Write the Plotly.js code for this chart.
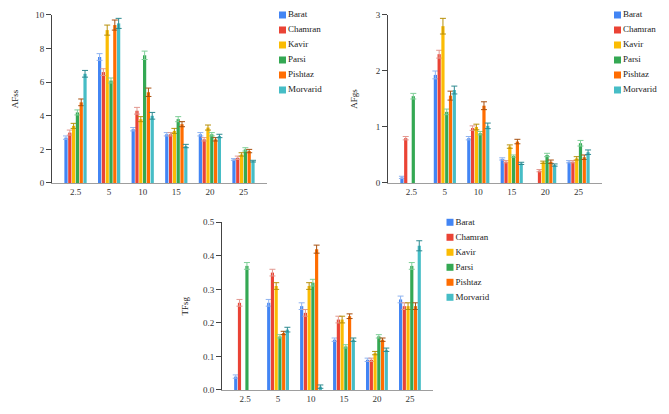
<!DOCTYPE html>
<html>
<head>
<meta charset="utf-8">
<script src="https://cdn.plot.ly/plotly-3.0.1.min.js"></script>
<style>html,body{margin:0;padding:0;background:#fff;}#chart{width:669px;height:414px;}</style>
</head>
<body>
<div id="chart"></div>
<script>
const categories = ['2.5', '5', '10', '15', '20', '25'];
const seriesNames = ['Barat', 'Chamran', 'Kavir', 'Parsi', 'Pishtaz', 'Morvarid'];
const seriesColors = ['#4285F4', '#EA4335', '#FBBC04', '#34A853', '#FF6D01', '#46BDC6'];
const errorColors = ['#8fb3f0', '#e39890', '#b8900a', '#7fcf98', '#a85010', '#2e8a90'];

// AFss
const afssBarat    = [2.7, 7.5, 3.2, 2.9, 2.9, 1.4];
const afssChamran  = [3.0, 6.6, 4.3, 2.9, 2.6, 1.5];
const afssKavir    = [3.4, 9.1, 3.8, 3.1, 3.3, 1.7];
const afssParsi    = [4.2, 6.1, 7.6, 3.8, 2.9, 2.0];
const afssPishtaz  = [4.8, 9.4, 5.4, 3.5, 2.6, 1.9];
const afssMorvarid = [6.5, 9.5, 4.0, 2.2, 2.8, 1.3];
const afssErrBarat    = [0.1, 0.2, 0.1, 0.1, 0.1, 0.05];
const afssErrChamran  = [0.15, 0.2, 0.2, 0.1, 0.1, 0.1];
const afssErrKavir    = [0.15, 0.3, 0.15, 0.15, 0.15, 0.1];
const afssErrParsi    = [0.15, 0.15, 0.25, 0.15, 0.1, 0.1];
const afssErrPishtaz  = [0.2, 0.3, 0.25, 0.15, 0.1, 0.1];
const afssErrMorvarid = [0.2, 0.3, 0.2, 0.1, 0.1, 0.05];

// AFgs
const afgsBarat    = [0.1, 1.93, 0.8, 0.43, null, 0.38];
const afgsChamran  = [0.8, 2.3, 0.98, 0.38, 0.22, 0.38];
const afgsKavir    = [null, 2.8, 1.0, 0.65, 0.37, 0.44];
const afgsParsi    = [1.55, 1.27, 0.89, 0.48, 0.5, 0.71];
const afgsPishtaz  = [null, 1.56, 1.38, 0.74, 0.38, 0.46];
const afgsMorvarid = [null, 1.66, 1.02, 0.35, 0.32, 0.55];
const afgsErrBarat    = [0.02, 0.07, 0.03, 0.02, null, 0.02];
const afgsErrChamran  = [0.03, 0.07, 0.04, 0.02, 0.02, 0.02];
const afgsErrKavir    = [null, 0.14, 0.05, 0.03, 0.02, 0.03];
const afgsErrParsi    = [0.05, 0.05, 0.03, 0.02, 0.03, 0.05];
const afgsErrPishtaz  = [null, 0.08, 0.07, 0.04, 0.03, 0.04];
const afgsErrMorvarid = [null, 0.07, 0.05, 0.02, 0.02, 0.04];

// TFsg
const tfsgBarat    = [0.04, 0.26, 0.25, 0.15, 0.09, 0.27];
const tfsgChamran  = [0.26, 0.35, 0.23, 0.21, 0.09, 0.25];
const tfsgKavir    = [null, 0.31, 0.31, 0.21, 0.11, 0.25];
const tfsgParsi    = [0.37, 0.16, 0.32, 0.13, 0.16, 0.37];
const tfsgPishtaz  = [null, 0.17, 0.42, 0.22, 0.15, 0.25];
const tfsgMorvarid = [null, 0.18, 0.01, 0.15, 0.12, 0.43];
const tfsgErrBarat    = [0.005, 0.01, 0.01, 0.005, 0.005, 0.01];
const tfsgErrChamran  = [0.01, 0.01, 0.01, 0.01, 0.005, 0.01];
const tfsgErrKavir    = [null, 0.01, 0.01, 0.01, 0.005, 0.01];
const tfsgErrParsi    = [0.01, 0.005, 0.01, 0.005, 0.005, 0.01];
const tfsgErrPishtaz  = [null, 0.005, 0.012, 0.007, 0.005, 0.01];
const tfsgErrMorvarid = [null, 0.007, 0.005, 0.005, 0.005, 0.015];

const panels = [
  {x: 'x',  y: 'y',  values: [afssBarat, afssChamran, afssKavir, afssParsi, afssPishtaz, afssMorvarid],
   errs: [afssErrBarat, afssErrChamran, afssErrKavir, afssErrParsi, afssErrPishtaz, afssErrMorvarid]},
  {x: 'x2', y: 'y2', values: [afgsBarat, afgsChamran, afgsKavir, afgsParsi, afgsPishtaz, afgsMorvarid],
   errs: [afgsErrBarat, afgsErrChamran, afgsErrKavir, afgsErrParsi, afgsErrPishtaz, afgsErrMorvarid]},
  {x: 'x3', y: 'y3', values: [tfsgBarat, tfsgChamran, tfsgKavir, tfsgParsi, tfsgPishtaz, tfsgMorvarid],
   errs: [tfsgErrBarat, tfsgErrChamran, tfsgErrKavir, tfsgErrParsi, tfsgErrPishtaz, tfsgErrMorvarid]}
];

const FONT = 'Liberation Serif, Georgia, serif';
const traces = [];
panels.forEach(p => {
  seriesNames.forEach((name, i) => {
    traces.push({
      type: 'bar', name: name, x: categories, y: p.values[i],
      xaxis: p.x, yaxis: p.y, showlegend: false,
      marker: {color: seriesColors[i]},
      error_y: {type: 'data', array: p.errs[i], visible: true, color: errorColors[i], thickness: 1, width: 3}
    });
  });
});

// legends drawn as colour keys on hidden axes
const legendIdx = seriesNames.map((_, i) => i);
[['x4', 'y4'], ['x5', 'y5'], ['x6', 'y6']].forEach(a => {
  traces.push({
    type: 'scatter', mode: 'markers+text', x: seriesNames.map(() => 0), y: legendIdx,
    xaxis: a[0], yaxis: a[1], text: seriesNames, textposition: 'middle right',
    textfont: {family: FONT, size: 9, color: '#222'},
    marker: {symbol: 'square', size: 7, color: seriesColors},
    cliponaxis: false, showlegend: false, hoverinfo: 'skip'
  });
});

function xAx(domain, anchor) {
  return {domain: domain, anchor: anchor, type: 'category', range: [-0.7, 5.7], showgrid: false, zeroline: false,
    showline: true, linecolor: '#9e9e9e', linewidth: 1, ticks: '', fixedrange: true,
    tickfont: {family: FONT, size: 9, color: '#333'}};
}
function yAx(domain, anchor, range, dtick, fmt, title, standoff) {
  return {domain: domain, anchor: anchor, range: range, dtick: dtick, tickformat: fmt, showgrid: false, zeroline: false,
    showline: true, linecolor: '#444', linewidth: 1, ticks: 'outside', ticklen: 5, tickcolor: '#444',
    tickfont: {family: FONT, size: 9, color: '#333'}, fixedrange: true,
    title: {text: title, font: {family: FONT, size: 9, color: '#222'}, standoff: standoff}};
}
function hid(domain, anchor, range) {
  return {domain: domain, anchor: anchor, range: range, visible: false, fixedrange: true};
}

const layout = {
  width: 669, height: 414, autosize: false,
  margin: {l: 0, r: 0, t: 0, b: 0},
  paper_bgcolor: '#fff', plot_bgcolor: '#fff',
  barmode: 'group', bargap: 0.32, bargroupgap: 0.15,
  showlegend: false,
  xaxis: xAx([52/669, 267/669], 'y'),
  yaxis: yAx([0.558, 0.9638], 'x', [0, 10], 2, '', 'AFss', 15),
  xaxis2: xAx([388/669, 602/669], 'y2'),
  yaxis2: yAx([0.558, 0.9638], 'x2', [0, 3], 1, '', 'AFgs', 16),
  xaxis3: xAx([222/669, 433/669], 'y3'),
  yaxis3: yAx([0.058, 0.463], 'x3', [0, 0.5], 0.1, '.1f', 'TFsg', 12),
  xaxis4: hid([282.5/669, 340/669], 'y4', [0, 1]),
  yaxis4: hid([0.7645, 0.9819], 'x4', [5.5, -0.5]),
  xaxis5: hid([617.5/669, 668/669], 'y5', [0, 1]),
  yaxis5: hid([0.7645, 0.9819], 'x5', [5.5, -0.5]),
  xaxis6: hid([450/669, 520/669], 'y6', [0, 1]),
  yaxis6: hid([0.2638, 0.4812], 'x6', [5.5, -0.5])
};

Plotly.newPlot('chart', traces, layout, {displayModeBar: false, staticPlot: true});
</script>
</body>
</html>
